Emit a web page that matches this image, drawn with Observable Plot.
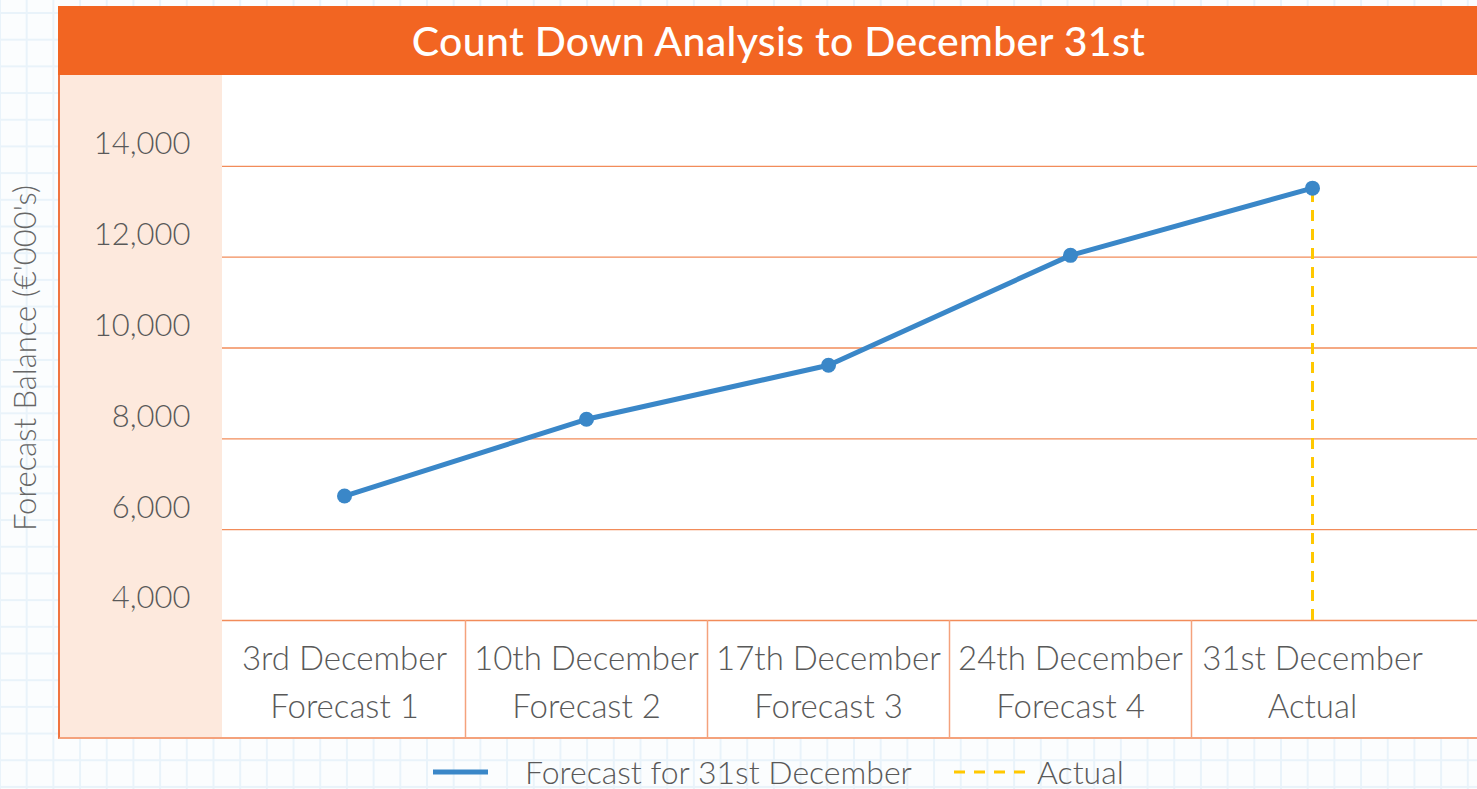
<!DOCTYPE html>
<html>
<head>
<meta charset="utf-8">
<script src="https://cdn.jsdelivr.net/npm/d3@7"></script>
<script src="https://cdn.jsdelivr.net/npm/@observablehq/plot@0.6"></script>
<style>
  html, body { margin: 0; padding: 0; }
  body {
    width: 1477px; height: 789px; overflow: hidden; position: relative;
    background-color: #fbfdfe;
    background-image:
      linear-gradient(#e9f3fa 2px, transparent 2px),
      linear-gradient(90deg, #e9f3fa 2px, transparent 2px);
    background-size: 26.7px 26.7px;
    background-position: -1px 12px;
    font-family: Lato, "Open Sans", sans-serif;
  }
  #title {
    position: absolute; left: 58px; top: 6px; width: 1441px; height: 69px;
    background: #f26522; color: #fff; font-weight: 500; font-size: 41px;
    line-height: 69px; text-align: center; letter-spacing: 0.3px;
  }
  #panel {
    position: absolute; left: 58px; top: 75px; width: 1441px; height: 664px;
    box-sizing: border-box; background: #fff;
    border-left: 2px solid #f07440; border-bottom: 2px solid #f4a27c;
  }
  #peach {
    position: absolute; left: 60px; top: 75px; width: 162px; height: 662px;
    background: #fde9dd;
  }
  #chart { position: absolute; left: 0; top: 75px; }
  .legend-item { position: absolute; top: 757px; height: 30px; display: flex; align-items: center;
    font-size: 32px; line-height: 30px; font-weight: 300; color: #595959; }
</style>
</head>
<body>
<div id="title">Count Down Analysis to December 31st</div>
<div id="panel"></div>
<div id="peach"></div>
<div id="chart"></div>
<div class="legend-item" style="left:433px">
  <svg width="55" height="10" style="margin-right:37px"><line x1="0" x2="55" y1="5" y2="5" stroke="#3a87c8" stroke-width="5"/></svg>
  <span id="leg1"></span>
</div>
<div class="legend-item" style="left:954px">
  <svg width="76" height="10" style="margin-right:7px"><line x1="0" x2="76" y1="5" y2="5" stroke="#ffc800" stroke-width="3" stroke-dasharray="11 9"/></svg>
  <span id="leg2"></span>
</div>
<script>
// ---- data ----
const dates = ["3rd December", "10th December", "17th December", "24th December", "31st December"];
const subs = ["Forecast 1", "Forecast 2", "Forecast 3", "Forecast 4", "Actual"];
const forecastValues = [6740, 8430, 9620, 12040, 13520];
const actualDate = "31st December";
const actualValue = 13520;
const yTicks = [4000, 6000, 8000, 10000, 12000, 14000];
const seriesNames = ["Forecast for 31st December", "Actual"];

const rows = dates.map((d, i) => ({date: d, sub: subs[i], value: forecastValues[i]}));
const actualRows = [{date: actualDate, value: actualValue}];

document.getElementById("leg1").textContent = seriesNames[0];
document.getElementById("leg2").textContent = seriesNames[1];

// ---- layout ----
const W = 1477, H = 664;
const xRange = [223, 1433];
const bw = (xRange[1] - xRange[0]) / dates.length;
const frameH = H - 119;
const grid = "#f28c5a";
const textColor = "#595959";

const chart = Plot.plot({
  width: W,
  height: H,
  marginLeft: 222,
  marginRight: 0,
  marginTop: 0,
  marginBottom: 119,
  style: {background: "transparent", fontFamily: "Lato, 'Open Sans', sans-serif", fontWeight: 300, color: textColor, overflow: "visible"},
  x: {type: "band", domain: dates, range: xRange, paddingInner: 0, paddingOuter: 0, axis: null},
  y: {domain: [4000, 16000], axis: null},
  marks: [
    Plot.ruleY(yTicks, {stroke: grid, strokeWidth: 1.3}),
    Plot.ruleX(dates.slice(1), {x: d => d, dx: -bw / 2, insetTop: frameH, insetBottom: -119, stroke: "#f4a27c", strokeWidth: 1.5}),
    Plot.axisY(yTicks, {tickSize: 0, tickPadding: 32, dy: -22, fontSize: 31, tickFormat: d3.format(","), label: null, fill: textColor}),
    Plot.text(["Forecast Balance (€'000's)"], {frameAnchor: "left", textAnchor: "middle", rotate: -90, dx: -196, dy: 10, fontSize: 31, fill: "#666"}),
    Plot.text(rows, {x: "date", text: d => d.date + "\n" + d.sub, frameAnchor: "bottom", lineAnchor: "middle", dy: 58, fontSize: 33, lineHeight: 1.45, fill: textColor}),
    Plot.ruleX(actualRows, {x: "date", y1: 4000, y2: "value", stroke: "#ffc800", strokeWidth: 3, strokeDasharray: "11 8"}),
    Plot.line(rows, {x: "date", y: "value", stroke: "#3a87c8", strokeWidth: 5}),
    Plot.dot(rows, {x: "date", y: "value", r: 7.5, fill: "#3a87c8"})
  ]
});
document.getElementById("chart").appendChild(chart);
</script>
</body>
</html>
